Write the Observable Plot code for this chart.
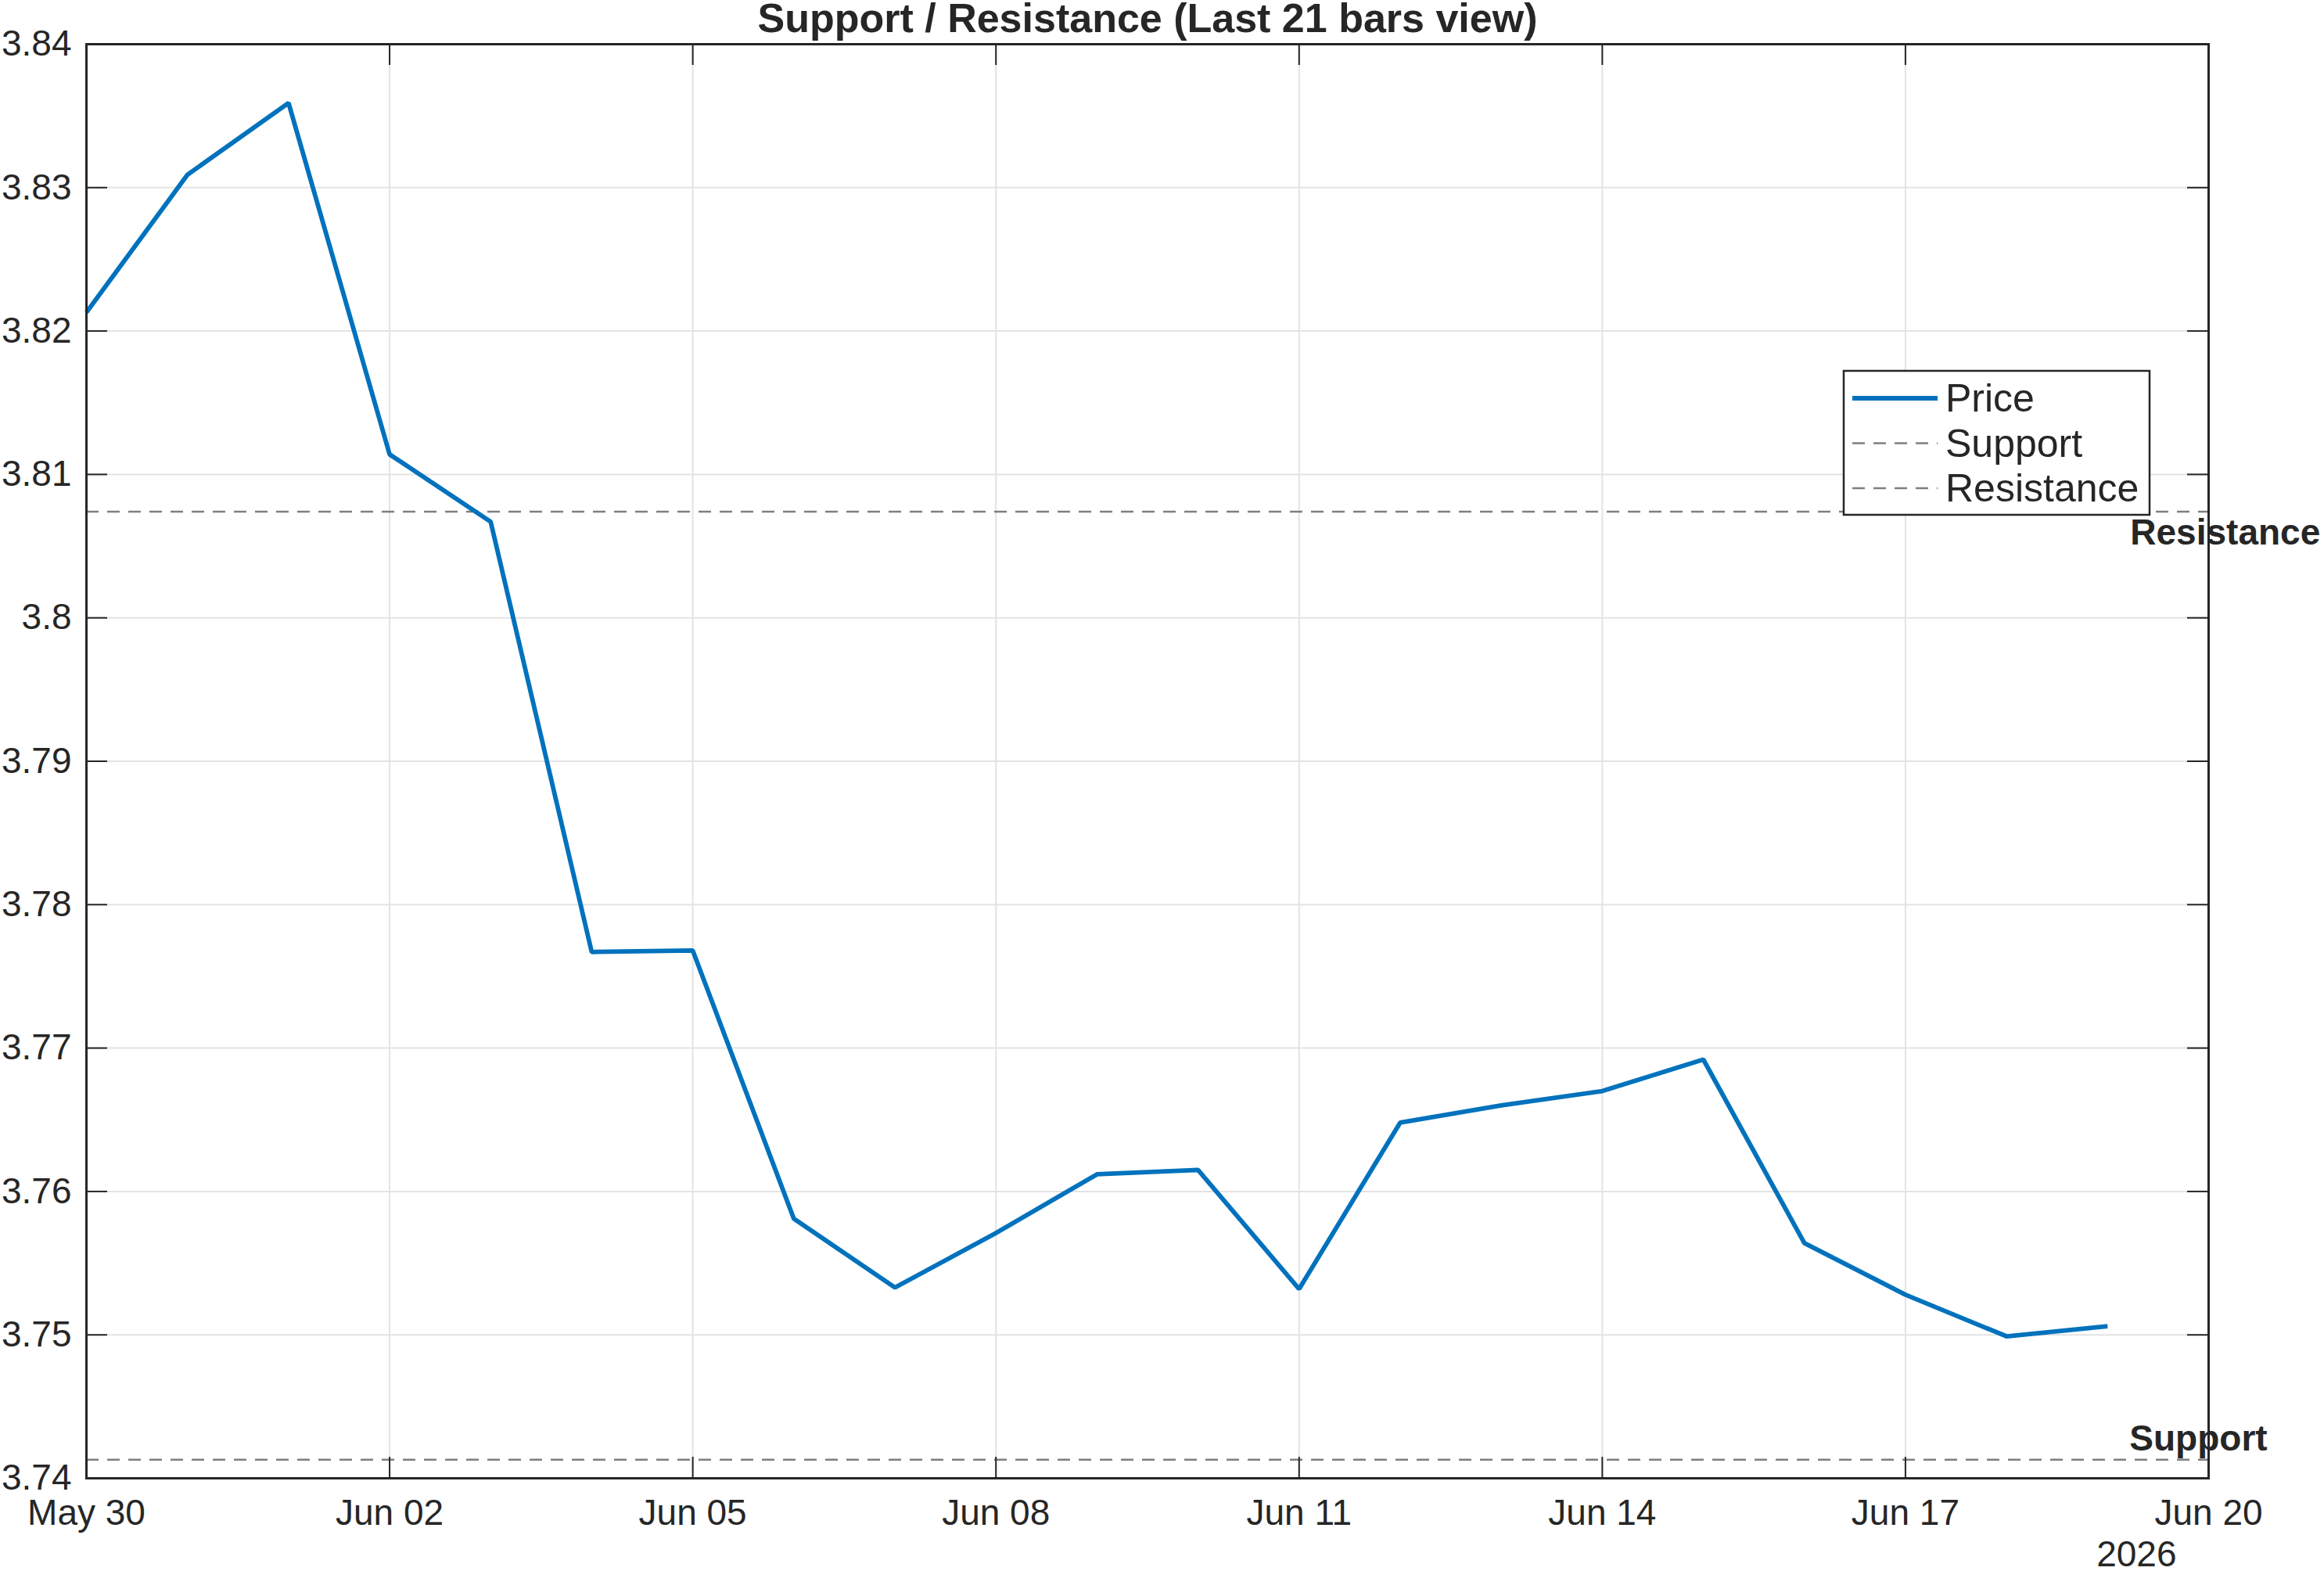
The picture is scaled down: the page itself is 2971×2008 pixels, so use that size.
<!DOCTYPE html>
<html><head><meta charset="utf-8">
<script src="https://cdn.jsdelivr.net/npm/d3@7"></script>
<script src="https://cdn.jsdelivr.net/npm/@observablehq/plot@0.6"></script>
<style>
html,body{margin:0;padding:0;background:#fff;}
#wrap{position:relative;width:2971px;height:2008px;overflow:hidden;}
#legend{position:absolute;left:0;top:0;}
</style></head><body><div id="wrap"></div>
<script>
// ---- data ----
const dates = ["2026-05-30","2026-05-31","2026-06-01","2026-06-02","2026-06-03","2026-06-04","2026-06-05",
  "2026-06-06","2026-06-07","2026-06-08","2026-06-09","2026-06-10","2026-06-11","2026-06-12",
  "2026-06-13","2026-06-14","2026-06-15","2026-06-16","2026-06-17","2026-06-18","2026-06-19"];
const prices = [3.8213,3.8309,3.8359,3.8114,3.8067,3.7767,3.7768,
  3.7581,3.7533,3.7571,3.7612,3.7615,3.7532,3.7648,
  3.7660,3.7670,3.7692,3.7564,3.7528,3.7499,3.7506];
const supportLevel = 3.7413;
const resistanceLevel = 3.8074;
const yTicks = [3.74,3.75,3.76,3.77,3.78,3.79,3.80,3.81,3.82,3.83,3.84];
const xTickDates = ["2026-05-30","2026-06-02","2026-06-05","2026-06-08","2026-06-11","2026-06-14","2026-06-17","2026-06-20"];
const xDomainDates = ["2026-05-30","2026-06-20"];
const seriesNames = ["Price","Support","Resistance"];
const titleText = "Support / Resistance (Last 21 bars view)";
const yearLabel = "2026";

// ---- build ----
const parse = d3.utcParse("%Y-%m-%d");
const table = dates.map((d,i)=>({date: parse(d), price: prices[i]}));
const xTicks = xTickDates.map(parse);
const xDomain = xDomainDates.map(parse);
const lastDate = table[table.length-1].date;

const W = 2971, H = 2008;
const mL = 110, mR = 148, mT = 56, mB = 119;
const pw = W - mL - mR, ph = H - mT - mB;
const tickLen = 27;
const axisColor = "#262626";
const blue = "#0072BD";
const dashGray = "#7f7f7f";
const gridColor = "#e3e3e3";
const font = "Liberation Sans, Arial, Helvetica, sans-serif";

const chart = Plot.plot({
  width: W, height: H,
  marginLeft: mL, marginRight: mR, marginTop: mT, marginBottom: mB,
  style: {fontFamily: font, fontSize: "46px", color: axisColor, background: "white", overflow: "visible"},
  x: {type: "utc", domain: xDomain},
  y: {domain: [3.74, 3.84]},
  marks: [
    Plot.gridX(xTicks, {stroke: gridColor, strokeOpacity: 1, strokeWidth: 2}),
    Plot.gridY(yTicks, {stroke: gridColor, strokeOpacity: 1, strokeWidth: 2}),
    Plot.ruleY([supportLevel], {stroke: dashGray, strokeWidth: 2.5, strokeDasharray: "16,11"}),
    Plot.ruleY([resistanceLevel], {stroke: dashGray, strokeWidth: 2.5, strokeDasharray: "16,11"}),
    Plot.line(table, {x: "date", y: "price", stroke: blue, strokeWidth: 5.8, strokeLinejoin: "miter", strokeLinecap: "butt"}),
    // inward ticks on all four sides
    Plot.tickY(yTicks, {y: d=>d, stroke: axisColor, strokeWidth: 2, insetRight: pw - tickLen}),
    Plot.tickY(yTicks, {y: d=>d, stroke: axisColor, strokeWidth: 2, insetLeft: pw - tickLen}),
    Plot.tickX(xTicks, {x: d=>d, stroke: axisColor, strokeWidth: 2, insetTop: ph - tickLen}),
    Plot.tickX(xTicks, {x: d=>d, stroke: axisColor, strokeWidth: 2, insetBottom: ph - tickLen}),
    Plot.frame({stroke: axisColor, strokeWidth: 3}),
    Plot.axisY({ticks: yTicks, tickSize: 0, tickPadding: 19, tickFormat: d => String(+d.toFixed(2)), fontSize: 46, fill: axisColor}),
    Plot.axisX({ticks: xTicks, tickSize: 0, tickPadding: 27, tickFormat: d3.utcFormat("%b %d"), fontSize: 46, fill: axisColor}),
    Plot.text([yearLabel], {x: xDomain[1], frameAnchor: "bottom", text: d=>d, textAnchor: "end", lineAnchor: "middle", dx: -41, dy: 98, fontSize: 46, fill: axisColor}),
    Plot.text([titleText], {frameAnchor: "top", text: d=>d, lineAnchor: "middle", dy: -32, fontSize: 52, fontWeight: "bold", fill: axisColor}),
    Plot.text([{x: lastDate, y: resistanceLevel, t: seriesNames[2]}], {x: "x", y: "y", text: "t", textAnchor: "start", lineAnchor: "middle", dx: 29, dy: 27.5, fontSize: 46, fontWeight: "bold", fill: axisColor}),
    Plot.text([{x: lastDate, y: supportLevel, t: seriesNames[1]}], {x: "x", y: "y", text: "t", textAnchor: "start", lineAnchor: "middle", dx: 28, dy: -26, fontSize: 46, fontWeight: "bold", fill: axisColor})
  ]
});
const wrap = document.getElementById("wrap");
wrap.appendChild(chart);

// ---- legend (overlay) ----
const lg = d3.select(wrap).append("svg").attr("id","legend").attr("width", W).attr("height", H)
  .style("font-family", font);
const bx = 2357, by = 474, bw = 391, bh = 184;
lg.append("rect").attr("x", bx).attr("y", by).attr("width", bw).attr("height", bh)
  .attr("fill", "white").attr("stroke", axisColor).attr("stroke-width", 2.5);
const styles = [
  {stroke: blue, w: 6, dash: null},
  {stroke: dashGray, w: 2.5, dash: "16,11"},
  {stroke: dashGray, w: 2.5, dash: "16,11"}
];
seriesNames.forEach((name, i) => {
  const cy = by + 35 + i * 57.5;
  lg.append("line").attr("x1", bx + 11).attr("x2", bx + 120).attr("y1", cy).attr("y2", cy)
    .attr("stroke", styles[i].stroke).attr("stroke-width", styles[i].w)
    .attr("stroke-dasharray", styles[i].dash);
  lg.append("text").attr("x", bx + 130).attr("y", cy + 17).attr("font-size", 50)
    .attr("fill", axisColor).text(name);
});
</script></body></html>
